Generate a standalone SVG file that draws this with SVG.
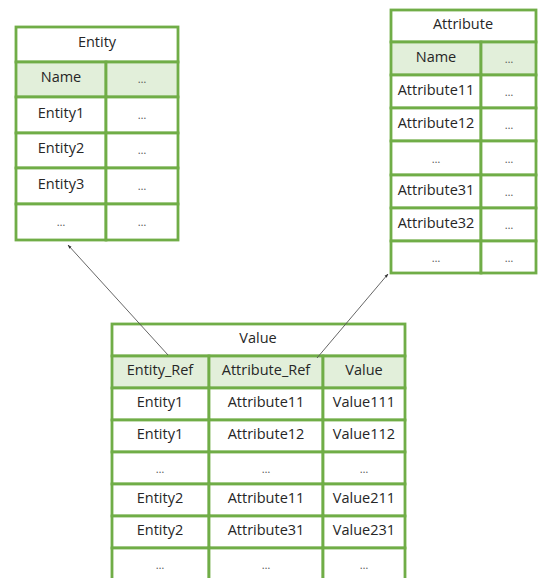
<svg xmlns="http://www.w3.org/2000/svg" width="538" height="578" viewBox="0 0 538 578">
  <style>
    .cell { fill: #ffffff; stroke: #70AD47; stroke-width: 2.8; }
    .head { fill: #E2EFDA; stroke: #70AD47; stroke-width: 2.8; }
    text { font-family: "Open Sans", "Liberation Sans", sans-serif; font-size: 14.5px; fill: #262626; text-anchor: middle; dominant-baseline: central; }
    .dots { font-size: 11px; fill: #555; }
    .link { stroke: #555555; stroke-width: 0.9; fill: none; }
  </style>
  <defs>
    <marker id="arrow" viewBox="0 0 10 10" refX="9" refY="5" markerWidth="4.5" markerHeight="4.5" orient="auto">
      <path d="M0,1.5 L10,5 L0,8.5 z" fill="#333"/>
    </marker>
  </defs>

  <rect width="538" height="578" fill="#ffffff"/>

  <!-- Entity table -->
  <g id="entity">
    <rect class="cell" x="16" y="27" width="162" height="35"/>
    <text x="97" y="41">Entity</text>
    <rect class="head" x="16" y="62" width="90" height="35"/>
    <rect class="head" x="106" y="62" width="72" height="35"/>
    <text x="61" y="76">Name</text>
    <text class="dots" x="142" y="78">…</text>
    <rect class="cell" x="16" y="97" width="90" height="36"/>
    <rect class="cell" x="106" y="97" width="72" height="36"/>
    <text x="61" y="112">Entity1</text>
    <text class="dots" x="142" y="114">…</text>
    <rect class="cell" x="16" y="133" width="90" height="35"/>
    <rect class="cell" x="106" y="133" width="72" height="35"/>
    <text x="61" y="147">Entity2</text>
    <text class="dots" x="142" y="149">…</text>
    <rect class="cell" x="16" y="168" width="90" height="36"/>
    <rect class="cell" x="106" y="168" width="72" height="36"/>
    <text x="61" y="183">Entity3</text>
    <text class="dots" x="142" y="185">…</text>
    <rect class="cell" x="16" y="204" width="90" height="36"/>
    <rect class="cell" x="106" y="204" width="72" height="36"/>
    <text class="dots" x="61" y="221">…</text>
    <text class="dots" x="142" y="221">…</text>
  </g>

  <!-- Attribute table -->
  <g id="attribute">
    <rect class="cell" x="391" y="10" width="145" height="32"/>
    <text x="463" y="23">Attribute</text>
    <rect class="head" x="391" y="42" width="90" height="33"/>
    <rect class="head" x="481" y="42" width="55" height="33"/>
    <text x="436" y="56">Name</text>
    <text class="dots" x="509" y="58">…</text>
    <rect class="cell" x="391" y="75" width="90" height="33"/>
    <rect class="cell" x="481" y="75" width="55" height="33"/>
    <text x="436" y="89">Attribute11</text>
    <text class="dots" x="509" y="91">…</text>
    <rect class="cell" x="391" y="108" width="90" height="33"/>
    <rect class="cell" x="481" y="108" width="55" height="33"/>
    <text x="436" y="122">Attribute12</text>
    <text class="dots" x="509" y="124">…</text>
    <rect class="cell" x="391" y="141" width="90" height="34"/>
    <rect class="cell" x="481" y="141" width="55" height="34"/>
    <text class="dots" x="436" y="158">…</text>
    <text class="dots" x="509" y="158">…</text>
    <rect class="cell" x="391" y="175" width="90" height="33"/>
    <rect class="cell" x="481" y="175" width="55" height="33"/>
    <text x="436" y="189">Attribute31</text>
    <text class="dots" x="509" y="191">…</text>
    <rect class="cell" x="391" y="208" width="90" height="33"/>
    <rect class="cell" x="481" y="208" width="55" height="33"/>
    <text x="436" y="222">Attribute32</text>
    <text class="dots" x="509" y="224">…</text>
    <rect class="cell" x="391" y="241" width="90" height="32"/>
    <rect class="cell" x="481" y="241" width="55" height="32"/>
    <text class="dots" x="436" y="257">…</text>
    <text class="dots" x="509" y="257">…</text>
  </g>

  <!-- Value table -->
  <g id="value">
    <rect class="cell" x="112" y="324" width="293" height="32"/>
    <text x="258" y="337">Value</text>
    <rect class="head" x="112" y="356" width="97" height="32"/>
    <rect class="head" x="209" y="356" width="114" height="32"/>
    <rect class="head" x="323" y="356" width="82" height="32"/>
    <text x="160" y="369">Entity_Ref</text>
    <text x="266" y="369">Attribute_Ref</text>
    <text x="364" y="369">Value</text>

    <rect class="cell" x="112" y="388" width="97" height="32"/>
    <rect class="cell" x="209" y="388" width="114" height="32"/>
    <rect class="cell" x="323" y="388" width="82" height="32"/>
    <text x="160" y="401">Entity1</text>
    <text x="266" y="401">Attribute11</text>
    <text x="364" y="401">Value111</text>

    <rect class="cell" x="112" y="420" width="97" height="32"/>
    <rect class="cell" x="209" y="420" width="114" height="32"/>
    <rect class="cell" x="323" y="420" width="82" height="32"/>
    <text x="160" y="433">Entity1</text>
    <text x="266" y="433">Attribute12</text>
    <text x="364" y="433">Value112</text>

    <rect class="cell" x="112" y="452" width="97" height="32"/>
    <rect class="cell" x="209" y="452" width="114" height="32"/>
    <rect class="cell" x="323" y="452" width="82" height="32"/>
    <text class="dots" x="160" y="468">…</text>
    <text class="dots" x="266" y="468">…</text>
    <text class="dots" x="364" y="468">…</text>

    <rect class="cell" x="112" y="484" width="97" height="32"/>
    <rect class="cell" x="209" y="484" width="114" height="32"/>
    <rect class="cell" x="323" y="484" width="82" height="32"/>
    <text x="160" y="497">Entity2</text>
    <text x="266" y="497">Attribute11</text>
    <text x="364" y="497">Value211</text>

    <rect class="cell" x="112" y="516" width="97" height="32"/>
    <rect class="cell" x="209" y="516" width="114" height="32"/>
    <rect class="cell" x="323" y="516" width="82" height="32"/>
    <text x="160" y="529">Entity2</text>
    <text x="266" y="529">Attribute31</text>
    <text x="364" y="529">Value231</text>

    <rect class="cell" x="112" y="548" width="97" height="40"/>
    <rect class="cell" x="209" y="548" width="114" height="40"/>
    <rect class="cell" x="323" y="548" width="82" height="40"/>
    <text class="dots" x="160" y="564">…</text>
    <text class="dots" x="266" y="564">…</text>
    <text class="dots" x="364" y="564">…</text>
  </g>

  <!-- Reference links -->
  <g id="connectors">
    <line class="link" x1="168" y1="355" x2="68" y2="245" marker-end="url(#arrow)"/>
    <line class="link" x1="317" y1="358" x2="388" y2="274" marker-end="url(#arrow)"/>
  </g>
</svg>
